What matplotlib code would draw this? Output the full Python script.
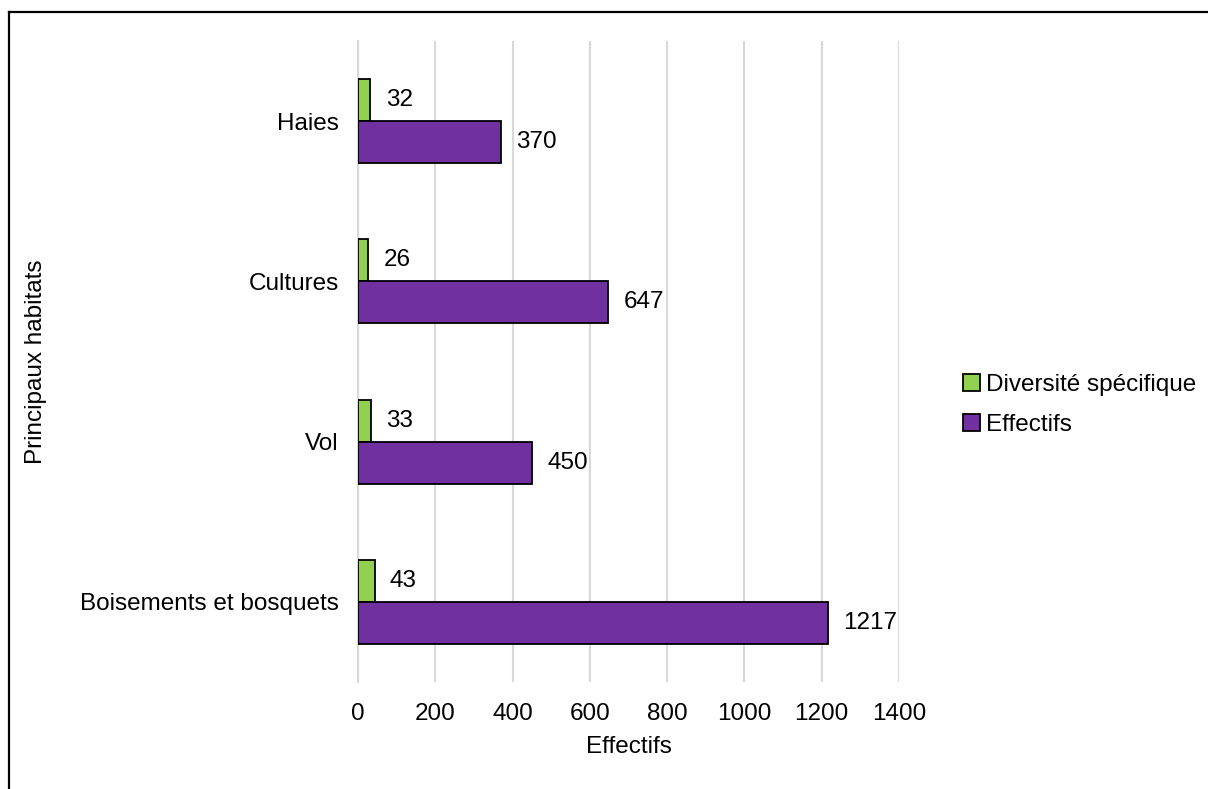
import numpy as np
import matplotlib
matplotlib.use("Agg")
import matplotlib.pyplot as plt
from matplotlib.lines import Line2D

plt.rcParams['font.family'] = ['Liberation Sans', 'DejaVu Sans']

# Data (bottom to top)
categories = ["Boisements et bosquets", "Vol", "Cultures", "Haies"]
diversite = [43, 33, 26, 32]
effectifs = [1217, 450, 647, 370]

GREEN = "#92D050"
PURPLE = "#7030A0"

fig = plt.figure(figsize=(12.08, 7.89), dpi=100)
ax = fig.add_axes([358 / 1208, 1 - 682 / 789, 541 / 1208, 641 / 789])

y = np.arange(len(categories))
h = 0.262

b1 = ax.barh(y + h / 2, diversite, height=h, color=GREEN, edgecolor="black",
             linewidth=1.3, label="Diversité spécifique", zorder=3)
b2 = ax.barh(y - h / 2, effectifs, height=h, color=PURPLE, edgecolor="black",
             linewidth=1.3, label="Effectifs", zorder=3)

fs = 17.5
for bars, vals in [(b1, diversite), (b2, effectifs)]:
    for bar, v in zip(bars, vals):
        ax.annotate(str(v), (bar.get_width(), bar.get_y() + bar.get_height() / 2),
                    xytext=(11, 0), textcoords="offset points",
                    va="center", ha="left", fontsize=fs)

ax.set_xlim(0, 1400)
ax.set_ylim(-0.5, len(categories) - 0.5)
ax.set_xticks(range(0, 1401, 200))
ax.set_yticks(y)
ax.set_yticklabels(categories)
ax.tick_params(axis="both", length=0, labelsize=fs)
ax.tick_params(axis="x", pad=15)
ax.tick_params(axis="y", pad=14)
ax.grid(axis="x", color="#D9D9D9", linewidth=1.5, zorder=0)
for s in ["top", "right", "bottom"]:
    ax.spines[s].set_visible(False)
ax.spines["left"].set_color("#D9D9D9")
ax.spines["left"].set_linewidth(1.5)

ax.set_xlabel("Effectifs", fontsize=fs)
ax.xaxis.set_label_coords(0.5, -(747 - 682) / 641, transform=ax.transAxes)
ax.xaxis.label.set_va("center")
ax.set_ylabel("Principaux habitats", fontsize=fs)
ax.yaxis.set_label_coords((36 - 358) / 541, 0.5)
ax.yaxis.label.set_va("center")

fig.legend(handles=[b1, b2], loc="center left", bbox_to_anchor=(941 / 1208, 1 - 405 / 789),
           frameon=False, fontsize=fs, handlelength=0.7, handleheight=0.7,
           handletextpad=0.25, labelspacing=0.75)

# outer frame (left and top edges visible)
fig.add_artist(Line2D([8.5 / 1208, 8.5 / 1208], [0, 1 - 12 / 789], color="black", lw=1.6,
                      transform=fig.transFigure))
fig.add_artist(Line2D([8.5 / 1208, 1], [1 - 12 / 789, 1 - 12 / 789], color="black", lw=1.6,
                      transform=fig.transFigure))

fig.savefig("out.png", dpi=100)
